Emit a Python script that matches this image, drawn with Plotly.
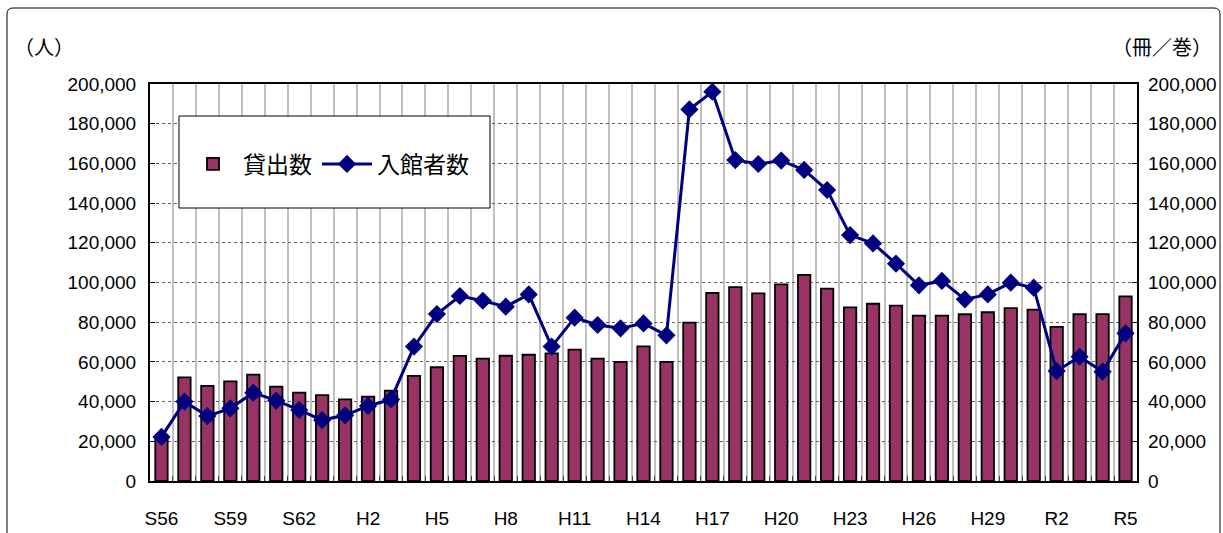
import plotly.graph_objects as go

years = ["S56", "S57", "S58", "S59", "S60", "S61", "S62", "S63",
         "H1", "H2", "H3", "H4", "H5", "H6", "H7", "H8", "H9", "H10",
         "H11", "H12", "H13", "H14", "H15", "H16", "H17", "H18", "H19",
         "H20", "H21", "H22", "H23", "H24", "H25", "H26", "H27", "H28",
         "H29", "H30", "R1", "R2", "R3", "R4", "R5"]

loans = [22000, 52200, 47900, 50200, 53600, 47500, 44500, 43300, 41100, 42500,
         45500, 53000, 57300, 63000, 61600, 63100, 63600, 64300, 66200, 61600,
         60000, 67800, 60000, 79800, 94700, 97700, 94500, 99100, 103800, 96900,
         87500, 89300, 88300, 83300, 83300, 84000, 85000, 87100, 86300, 77600,
         84000, 84100, 93000]

visitors = [22200, 40000, 32700, 36600, 44500, 40500, 35800, 30700, 33100, 37800,
            41100, 67700, 84100, 93200, 90800, 87800, 94000, 67700, 82300, 78600,
            76900, 79400, 73400, 187200, 196100, 161700, 159700, 161400, 156700, 146600,
            123900, 119700, 109500, 98600, 100800, 91500, 94000, 99900, 97400, 55400,
            62600, 55100, 74400]

y_ticks = list(range(0, 200001, 20000))

idx = list(range(len(years)))
label_idx = idx[::3]
label_txt = years[::3]
boundaries = [i + 0.5 for i in idx[:-1]]

FONT = "Liberation Sans, Arial, Noto Sans CJK JP, sans-serif"
CJK = "Noto Sans CJK JP, Liberation Sans, sans-serif"

fig = go.Figure()
fig.add_trace(go.Bar(
    x=idx, y=loans, name="貸出数", yaxis="y",
    marker=dict(color="#993366", line=dict(color="black", width=1.8)),
))
fig.add_trace(go.Scatter(
    x=idx, y=visitors, name="入館者数", mode="lines+markers", yaxis="y2",
    line=dict(color="#000080", width=3),
    marker=dict(symbol="diamond", size=14, color="#000080"),
))

W, H = 1223, 533
L, R, T, B = 150, 86, 84, 52
pw, ph = W - L - R, H - T - B

def px(x):
    return (x - L) / pw

def py(y):
    return (H - B - y) / ph

fig.update_layout(
    width=W, height=H,
    margin=dict(l=L, r=R, t=T, b=B, autoexpand=False),
    paper_bgcolor="white", plot_bgcolor="white",
    bargap=0.46,
    font=dict(family=FONT, size=19, color="black"),
    showlegend=True,
    legend=dict(
        orientation="h", x=px(183), y=py(164), xanchor="left", yanchor="middle",
        bgcolor="rgba(0,0,0,0)", borderwidth=0,
        font=dict(family=CJK, size=23, color="black"),
        itemwidth=50, traceorder="normal",
    ),
    xaxis=dict(
        range=[-0.5, len(years) - 0.5], automargin=False,
        tickmode="array", tickvals=label_idx, ticktext=label_txt,
        showgrid=False, zeroline=False,
        showline=True, linecolor="black", linewidth=2, mirror=True,
        ticks="", ticklabelstandoff=19,
        tickfont=dict(family=FONT, size=19),
        minor=dict(tickmode="array", tickvals=boundaries, showgrid=True,
                   gridcolor="#c0c0c0", gridwidth=2,
                   ticks="inside", ticklen=5, tickcolor="#404040", tickwidth=1),
    ),
    yaxis=dict(
        range=[0, 200000], tickmode="array", tickvals=y_ticks, automargin=False,
        tickformat=",d",
        showgrid=True, gridcolor="#606060", gridwidth=1, griddash="dot",
        zeroline=False,
        showline=True, linecolor="black", linewidth=2, mirror=True,
        ticks="inside", ticklen=5, tickcolor="black",
        ticklabelstandoff=8,
        tickfont=dict(family=FONT, size=19),
    ),
    yaxis2=dict(
        range=[0, 200000], tickmode="array", tickvals=y_ticks, automargin=False,
        tickformat=",d", overlaying="y", side="right",
        showgrid=False, zeroline=False,
        showline=False,
        ticks="inside", ticklen=5, tickcolor="black",
        ticklabelstandoff=10,
        tickfont=dict(family=FONT, size=19),
    ),
    shapes=[
        dict(type="rect", xref="paper", yref="paper",
             x0=px(179), x1=px(490), y0=py(208), y1=py(116),
             fillcolor="white", line=dict(color="black", width=1), layer="above"),
        dict(type="path", xref="paper", yref="paper",
             path=f"M {px(7)} {py(560)} L {px(7)} {py(14)} Q {px(7)} {py(8)} {px(13)} {py(8)} "
                  f"L {px(1214)} {py(8)} Q {px(1220)} {py(8)} {px(1220)} {py(14)} L {px(1220)} {py(560)}",
             line=dict(color="black", width=1), layer="below"),
    ],
    annotations=[
        dict(text="（人）", xref="paper", yref="paper", x=px(12), y=py(47),
             xanchor="left", yanchor="middle", showarrow=False,
             font=dict(family=CJK, size=20, color="black")),
        dict(text="（冊／巻）", xref="paper", yref="paper", x=px(1110), y=py(47),
             xanchor="left", yanchor="middle", showarrow=False,
             font=dict(family=CJK, size=20, color="black")),
    ],
)

fig.write_html("out.html", config={"displayModeBar": False},
               post_script="document.body.style.margin='0px';document.body.style.overflow='hidden';")
